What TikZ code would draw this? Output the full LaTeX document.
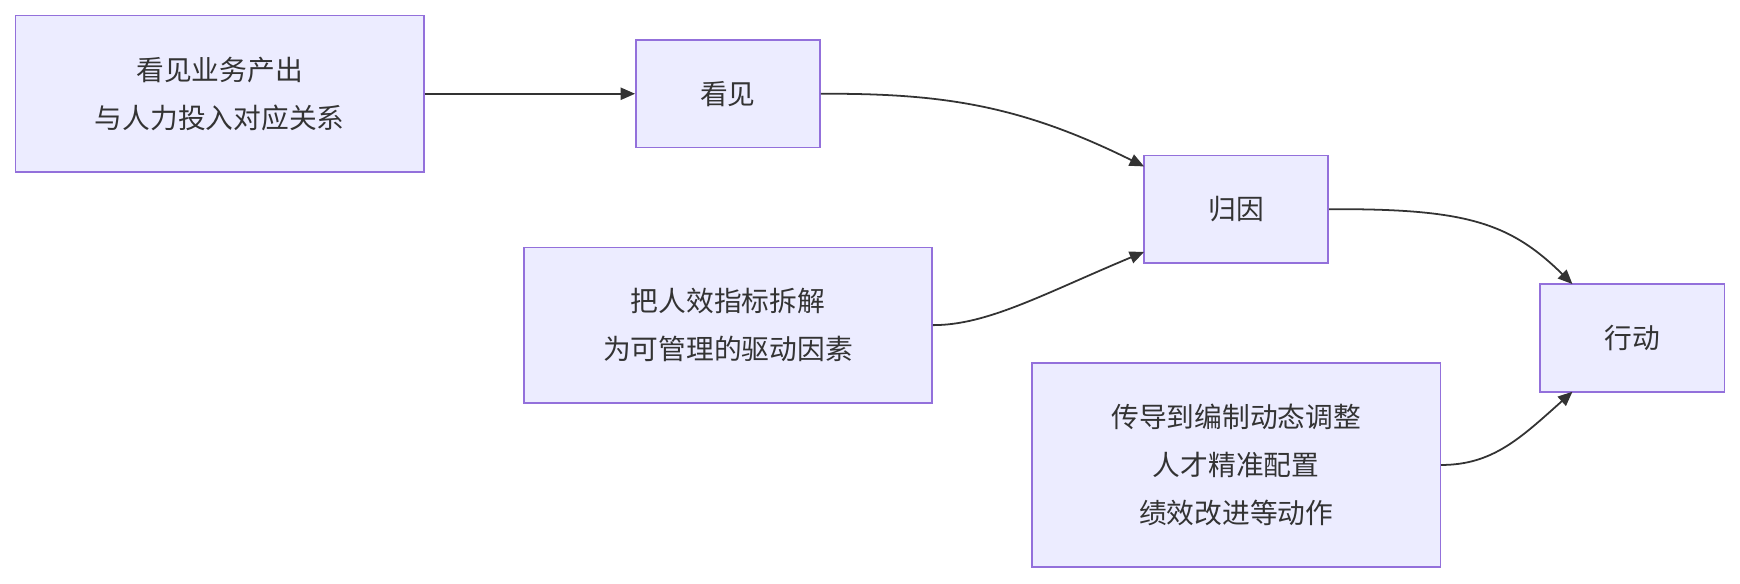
\documentclass[tikz,border=0pt]{standalone}
\usepackage{fontspec}
\setmainfont{Noto Sans CJK SC}
\usetikzlibrary{arrows.meta}
\definecolor{bx}{HTML}{ECECFF}
\definecolor{bd}{HTML}{9370DB}
\definecolor{tx}{HTML}{333333}
\begin{document}
\begin{tikzpicture}[x=1pt,y=-1pt,
  box/.style={draw=bd,fill=bx,line width=1.5pt,inner sep=0pt,text=tx,font=\fontsize{25}{43}\selectfont,align=center},
  ar/.style={draw=tx,line width=1.6pt,-{Triangle[length=13pt,width=11pt]}}]
\useasboundingbox (0,0) rectangle (1568,526);
\node[box,minimum width=368pt,minimum height=141pt] (A) at (198,84.5) {看见业务产出\\与人力投入对应关系};
\node[box,minimum width=166pt,minimum height=97pt] (B) at (656,84.5) {看见};
\node[box,minimum width=166pt,minimum height=97pt] (C) at (1114,188.5) {归因};
\node[box,minimum width=368pt,minimum height=140pt] (D) at (656,293) {把人效指标拆解\\为可管理的驱动因素};
\node[box,minimum width=166pt,minimum height=97pt] (E) at (1471,304.5) {行动};
\node[box,minimum width=368pt,minimum height=184pt] (F) at (1114,419) {传导到编制动态调整\\人才精准配置\\绩效改进等动作};
\coordinate (c1) at (1031,150);
\coordinate (c2) at (1031,227);
\coordinate (e1) at (1417,256);
\coordinate (e2) at (1417,353);
\draw[ar] (A.east) -- (B.west);
\draw[ar] (B.east) .. controls (850,84) and (920,95) .. (c1);
\draw[ar] (D.east) .. controls (890,293) and (940,265) .. (c2);
\draw[ar] (C.east) .. controls (1320,188) and (1360,200) .. (e1);
\draw[ar] (F.east) .. controls (1345,419) and (1370,395) .. (e2);
\end{tikzpicture}
\end{document}
